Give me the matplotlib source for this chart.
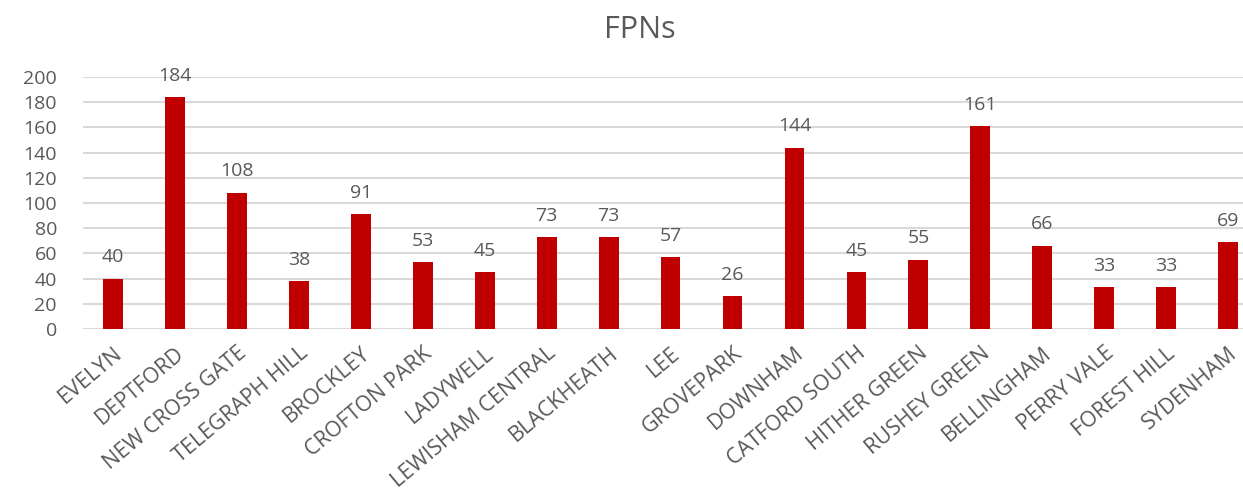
import numpy as np
import matplotlib.pyplot as plt

wards = ['EVELYN', 'DEPTFORD', 'NEW CROSS GATE', 'TELEGRAPH HILL', 'BROCKLEY',
         'CROFTON PARK', 'LADYWELL', 'LEWISHAM CENTRAL', 'BLACKHEATH', 'LEE',
         'GROVEPARK', 'DOWNHAM', 'CATFORD SOUTH', 'HITHER GREEN', 'RUSHEY GREEN',
         'BELLINGHAM', 'PERRY VALE', 'FOREST HILL', 'SYDENHAM']
fpns = [40, 184, 108, 38, 91, 53, 45, 73, 73, 57, 26, 144, 45, 55, 161, 66, 33, 33, 69]
yticks = list(range(0, 201, 20))

plt.rcParams['font.family'] = ['Open Sans', 'DejaVu Sans']
grey = '#595959'

fig = plt.figure(figsize=(12.43, 5.0), dpi=100)
ax = fig.add_axes([0.067, 0.342, 0.933, 0.504])

x = np.arange(len(wards))
ax.bar(x, fpns, width=0.32, color='#C00000', zorder=3)
for xi, v in zip(x, fpns):
    ax.annotate(str(v), (xi, v), xytext=(0, 9), textcoords='offset points',
                ha='center', va='bottom', fontsize=14, color=grey)

ax.set_ylim(0, 200)
ax.set_xlim(-0.48, len(wards) - 0.76)
ax.set_yticks(yticks)
ax.set_yticklabels([str(t) for t in yticks], fontsize=14, color=grey)
ax.set_xticks(x)
ax.set_xticklabels(wards, rotation=40, ha='right', rotation_mode='anchor',
                   fontsize=15.5, color=grey)
ax.tick_params(axis='both', length=0)
ax.tick_params(axis='y', pad=19)
ax.tick_params(axis='x', pad=10)
ax.yaxis.grid(True, color='#D9D9D9', linewidth=1.5, zorder=0)
for s in ax.spines.values():
    s.set_visible(False)

fig.text(0.515, 0.94, 'FPNs', ha='center', va='center', fontsize=22, color=grey)

fig.savefig('out.png', dpi=100)
